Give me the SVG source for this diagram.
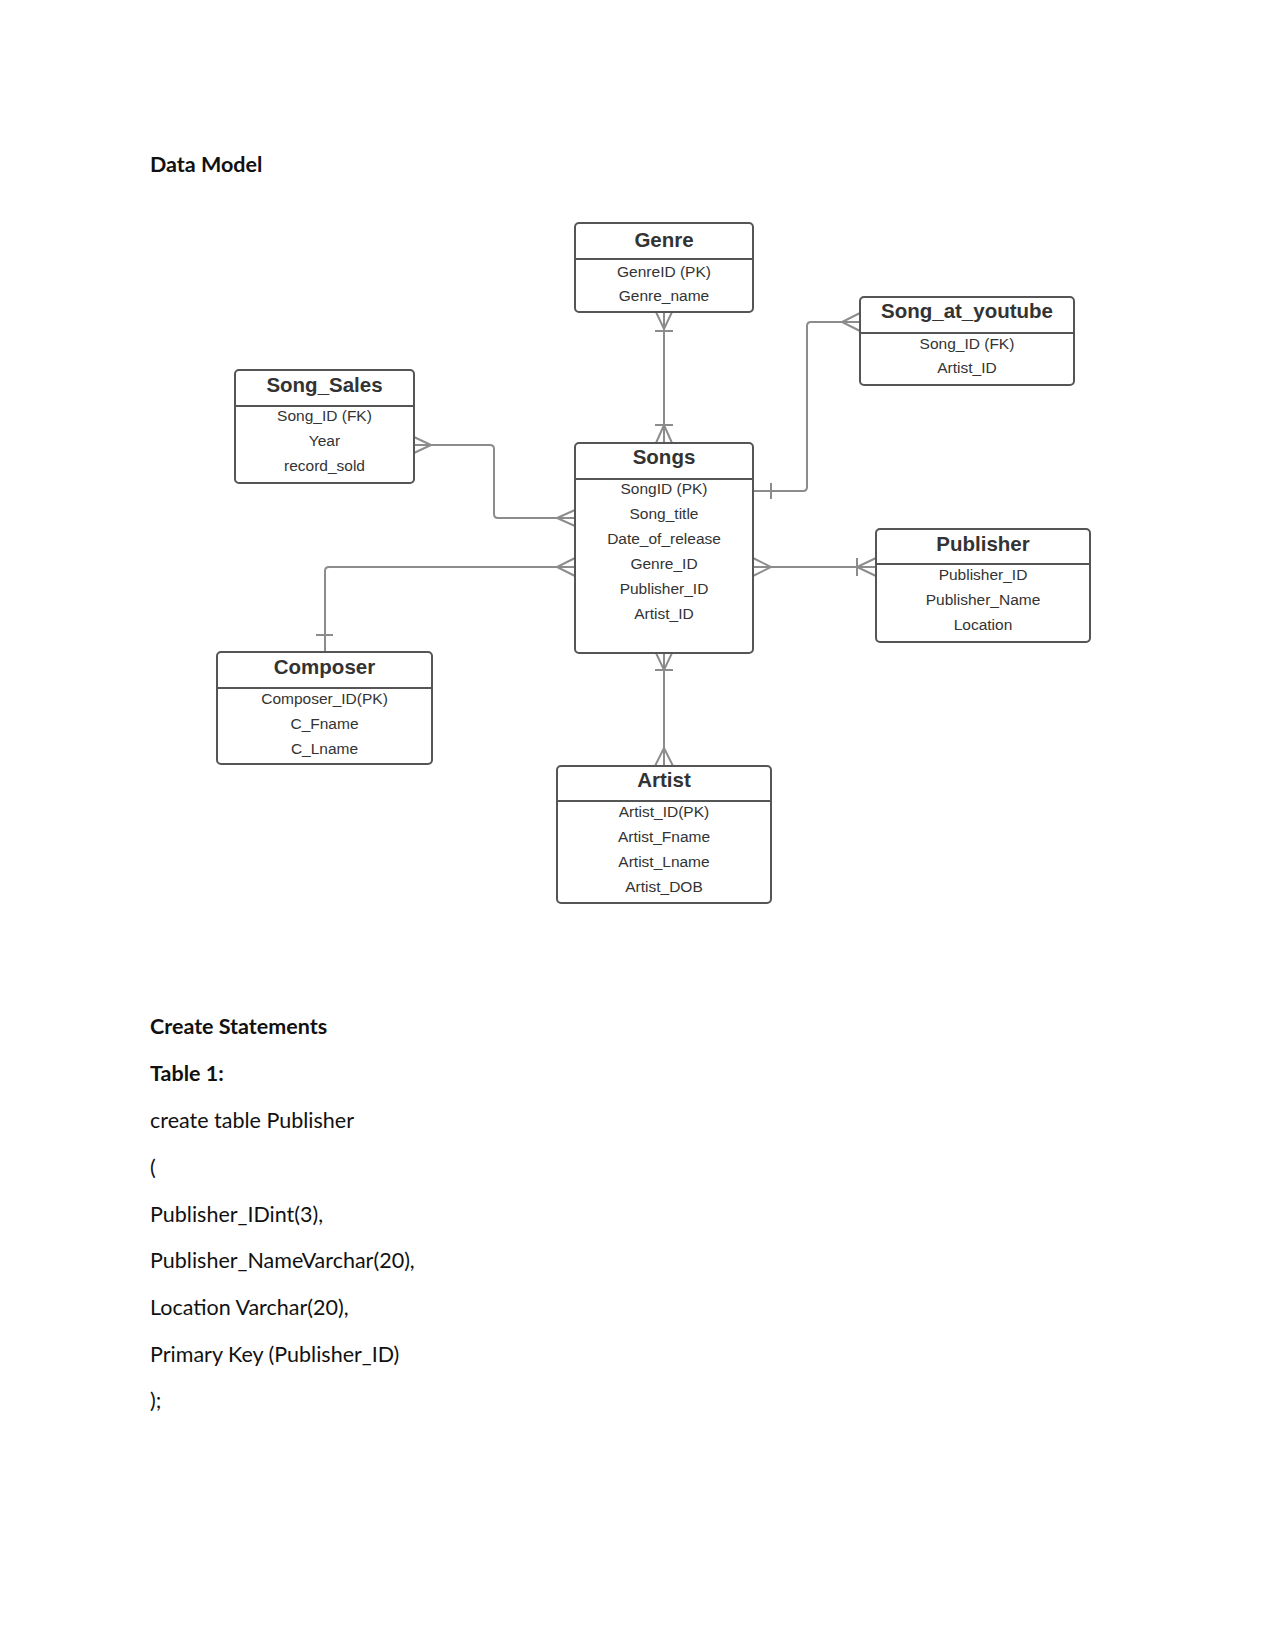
<svg xmlns="http://www.w3.org/2000/svg" width="1275" height="1651" viewBox="0 0 1275 1651">
<style>
.box{fill:#fff;stroke:#555;stroke-width:2}
.hl{stroke:#555;stroke-width:2}
.t{font-family:"Liberation Sans",Arial,sans-serif;font-size:20.5px;font-weight:bold;fill:#333;text-anchor:middle}
.r{font-family:"Liberation Sans",Arial,sans-serif;font-size:15.5px;fill:#333;text-anchor:middle}
.c{fill:none;stroke:#8c8c8c;stroke-width:2}
.h{font-family:Lato,"Liberation Sans",sans-serif;font-size:21.5px;font-weight:bold;fill:#111}
.p{font-family:Lato,"Liberation Sans",sans-serif;font-size:21.5px;fill:#111}
</style>
<rect width="1275" height="1651" fill="#fff"/>
<text class="h" x="150" y="172">Data Model</text>

<g id="connectors">
  <!-- Genre - Songs -->
  <path class="c" d="M664,312 V443"/>
  <path class="c" d="M656,312 L664,329 L672,312 M655,331 H673"/>
  <path class="c" d="M655,425 H673 M656,443 L664,425 L672,443"/>
  <!-- Songs - Artist -->
  <path class="c" d="M664,653 V766"/>
  <path class="c" d="M656,653 L664,670 L672,653 M655,670 H673"/>
  <path class="c" d="M655,766 L664,748 L673,766"/>
  <!-- Song_Sales - Songs -->
  <path class="c" d="M414,445 H490 Q494,445 494,449 V514 Q494,518 498,518 H575"/>
  <path class="c" d="M414,437 L431,445 L414,453"/>
  <path class="c" d="M575,510 L557,518 L575,526"/>
  <!-- Composer - Songs -->
  <path class="c" d="M575,567 H329 Q325,567 325,571 V652"/>
  <path class="c" d="M575,558 L557,567 L575,576"/>
  <path class="c" d="M316,635 H333"/>
  <!-- Songs - Song_at_youtube -->
  <path class="c" d="M753,491 H803 Q807,491 807,487 V326 Q807,322 811,322 H860"/>
  <path class="c" d="M771,483 V499"/>
  <path class="c" d="M860,313 L842,322 L860,331"/>
  <!-- Songs - Publisher -->
  <path class="c" d="M753,567 H876"/>
  <path class="c" d="M753,558 L771,567 L753,576"/>
  <path class="c" d="M876,558 L857,567 L876,576 M857,558 V576"/>
</g>

<g id="genre">
  <rect class="box" x="575" y="223" width="178" height="89" rx="4"/>
  <line class="hl" x1="575" y1="259" x2="753" y2="259"/>
  <text class="t" x="664" y="247">Genre</text>
  <text class="r" x="664" y="277">GenreID (PK)</text>
  <text class="r" x="664" y="301">Genre_name</text>
</g>

<g id="song_at_youtube">
  <rect class="box" x="860" y="297" width="214" height="88" rx="4"/>
  <line class="hl" x1="860" y1="333" x2="1074" y2="333"/>
  <text class="t" x="967" y="318">Song_at_youtube</text>
  <text class="r" x="967" y="349">Song_ID (FK)</text>
  <text class="r" x="967" y="373">Artist_ID</text>
</g>

<g id="song_sales">
  <rect class="box" x="235" y="370" width="179" height="113" rx="4"/>
  <line class="hl" x1="235" y1="406" x2="414" y2="406"/>
  <text class="t" x="324.5" y="392">Song_Sales</text>
  <text class="r" x="324.5" y="421">Song_ID (FK)</text>
  <text class="r" x="324.5" y="446">Year</text>
  <text class="r" x="324.5" y="471">record_sold</text>
</g>

<g id="songs">
  <rect class="box" x="575" y="443" width="178" height="210" rx="4"/>
  <line class="hl" x1="575" y1="479" x2="753" y2="479"/>
  <text class="t" x="664" y="464">Songs</text>
  <text class="r" x="664" y="494">SongID (PK)</text>
  <text class="r" x="664" y="519">Song_title</text>
  <text class="r" x="664" y="544">Date_of_release</text>
  <text class="r" x="664" y="569">Genre_ID</text>
  <text class="r" x="664" y="594">Publisher_ID</text>
  <text class="r" x="664" y="619">Artist_ID</text>
</g>

<g id="publisher">
  <rect class="box" x="876" y="529" width="214" height="113" rx="4"/>
  <line class="hl" x1="876" y1="564" x2="1090" y2="564"/>
  <text class="t" x="983" y="551">Publisher</text>
  <text class="r" x="983" y="580">Publisher_ID</text>
  <text class="r" x="983" y="605">Publisher_Name</text>
  <text class="r" x="983" y="630">Location</text>
</g>

<g id="composer">
  <rect class="box" x="217" y="652" width="215" height="112" rx="4"/>
  <line class="hl" x1="217" y1="688" x2="432" y2="688"/>
  <text class="t" x="324.5" y="674">Composer</text>
  <text class="r" x="324.5" y="704">Composer_ID(PK)</text>
  <text class="r" x="324.5" y="729">C_Fname</text>
  <text class="r" x="324.5" y="754">C_Lname</text>
</g>

<g id="artist">
  <rect class="box" x="557" y="766" width="214" height="137" rx="4"/>
  <line class="hl" x1="557" y1="801" x2="771" y2="801"/>
  <text class="t" x="664" y="787">Artist</text>
  <text class="r" x="664" y="817">Artist_ID(PK)</text>
  <text class="r" x="664" y="842">Artist_Fname</text>
  <text class="r" x="664" y="867">Artist_Lname</text>
  <text class="r" x="664" y="892">Artist_DOB</text>
</g>

<text class="h" x="150" y="1034">Create Statements</text>
<text class="h" x="150" y="1081">Table 1:</text>
<text class="p" x="150" y="1128">create table Publisher</text>
<text class="p" x="150" y="1175">(</text>
<text class="p" x="150" y="1222">Publisher_IDint(3),</text>
<text class="p" x="150" y="1268">Publisher_NameVarchar(20),</text>
<text class="p" x="150" y="1315">Location Varchar(20),</text>
<text class="p" x="150" y="1362">Primary Key (Publisher_ID)</text>
<text class="p" x="150" y="1408">);</text>
</svg>
